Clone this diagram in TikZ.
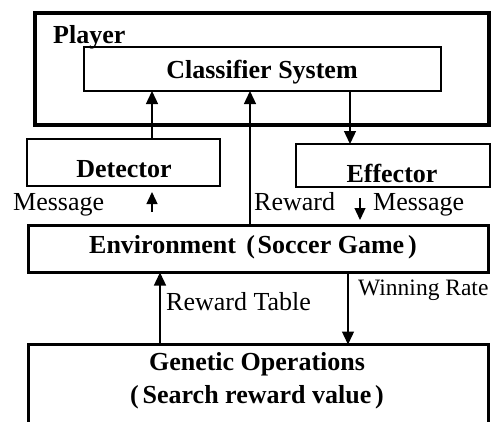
\documentclass[tikz,border=0pt]{standalone}
\usepackage{fontspec}
\setmainfont{Liberation Serif}
\usetikzlibrary{arrows.meta}
\begin{document}
\begin{tikzpicture}[x=1pt,y=-1pt,
  box/.style={draw, line width=1.3pt, inner sep=0pt, outer sep=0pt, anchor=north west},
  heavy/.style={box, line width=3pt},
  heavier/.style={box, line width=4pt},
  title/.style={font=\fontsize{26}{30}\selectfont\bfseries, anchor=base, inner sep=0pt},
  lab/.style={font=\fontsize{26}{30}\selectfont, anchor=base west, inner sep=0pt},
  smalllab/.style={font=\fontsize{23.5}{27}\selectfont, anchor=base west, inner sep=0pt},
  arr/.style={line width=1.3pt, -{Triangle[width=12pt,length=13pt]}},
  sarr/.style={line width=1.3pt, -{Triangle[width=11pt,length=12pt]}}]
\useasboundingbox (0,0) rectangle (495,421);

% boxes
\node[heavier, minimum width=454, minimum height=112] (player) at (35,13) {};
\node[box, minimum width=357, minimum height=44] (cls) at (84,47) {};
\node[box, minimum width=193, minimum height=47] (det) at (27,139) {};
\node[box, minimum width=194, minimum height=43] (eff) at (296,144) {};
\node[heavy, minimum width=460, minimum height=47] (env) at (28.5,225.5) {};
\node[heavy, minimum width=460, minimum height=110] (gen) at (28.5,344.5) {};

% box texts
\node[title, anchor=base west] (tplayer) at (53,43) {Player};
\node[title] (tcls) at (262,78) {Classifier System};
\node[title] (tdet) at (124,177) {Detector};
\node[title] (teff) at (392,182) {Effector};
\node[title] (tenv) at (253,253) {Environment\hspace{0.4em}(\hspace{0.1em}Soccer Game\hspace{0.15em})};
\node[title] (tgen1) at (257,370) {Genetic Operations};
\node[title] (tgen2) at (257,403) {(\hspace{0.15em}Search reward value\hspace{0.15em})};

% connectors
\draw[arr] (152,0 |- det.north) -- (152,0 |- cls.south);
\draw[arr] (250,0 |- env.north) -- (250,0 |- cls.south);
\draw[arr] (350,0 |- cls.south) -- (350,0 |- eff.north);
\draw[arr] (160,0 |- gen.north) -- (160,0 |- env.south);
\draw[arr] (348,0 |- env.south) -- (348,0 |- gen.north);

% short message arrows
\coordinate (m1s) at (152,212);
\coordinate (m1e) at (152,192);
\coordinate (m2s) at (360,198);
\coordinate (m2e) at (360,220);
\draw[sarr] (m1s) -- (m1e);
\draw[sarr] (m2s) -- (m2e);

% labels
\node[lab] (lmsg1) at (13,210) {Message};
\node[lab] (lrew) at (254,210) {Reward};
\node[lab] (lmsg2) at (373,210) {Message};
\node[lab] (lrt) at (166,310) {Reward Table};
\node[smalllab] (lwr) at (358,295) {Winning Rate};
\end{tikzpicture}
\end{document}
